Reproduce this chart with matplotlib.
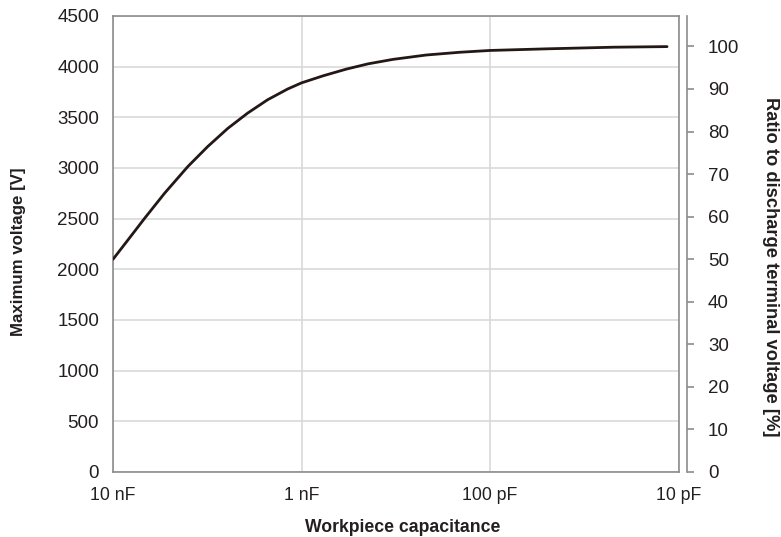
import matplotlib
matplotlib.use("Agg")
import matplotlib.pyplot as plt
import matplotlib.ticker as mticker

plt.rcParams['font.family'] = ['Liberation Sans', 'DejaVu Sans']

# capacitance in pF, maximum voltage in V
cap_pf = [10000, 8330, 6793, 5326, 4010, 3143, 2464, 1930, 1514, 1186, 1000,
          767, 578, 443, 327, 218, 145, 100, 50, 22.2, 11.5]
max_voltage = [2099, 2290, 2504, 2751, 3014, 3212, 3390, 3542, 3673, 3779, 3840,
               3910, 3976, 4028, 4072, 4115, 4142, 4160, 4176, 4192, 4198]

x_ticks = [10000, 1000, 100, 10]
x_labels = ['10 nF', '1 nF', '100 pF', '10 pF']
left_ticks = list(range(0, 4501, 500))
right_ticks = list(range(0, 101, 10))
full_voltage = 4200

text_col = '#231f20'
spine_col = '#8c8c8c'
grid_col = '#d9d9d9'

W, H = 781, 537
fig = plt.figure(figsize=(W / 100, H / 100), dpi=100)
ax = fig.add_axes([113 / W, 65 / H, 565.5 / W, 456 / H])

ax.plot(cap_pf, max_voltage, color='#231815', linewidth=2.0, solid_capstyle='round', zorder=3)

ax.set_xscale('log')
ax.set_xlim(10000, 10)
ax.set_ylim(0, 4500)
ax.xaxis.set_major_locator(mticker.FixedLocator(x_ticks))
ax.xaxis.set_minor_locator(mticker.NullLocator())
ax.set_xticks(x_ticks)
ax.set_xticklabels(x_labels)
ax.set_yticks(left_ticks)
ax.grid(True, color=grid_col, linewidth=1.2)
ax.set_axisbelow(True)
ax.tick_params(axis='x', length=0, labelsize=12.7, colors=text_col, pad=11)
ax.tick_params(axis='y', length=0, labelsize=13.5, colors=text_col, pad=10)
for s in ax.spines.values():
    s.set_color(spine_col)
    s.set_linewidth(1.2)

ax2 = ax.twinx()
ax2.set_ylim(0, 4500 / full_voltage * 100)
ax2.set_yticks(right_ticks)
ax2.spines['right'].set_position(('outward', 6.3))
ax2.spines['right'].set_color(spine_col)
ax2.spines['right'].set_linewidth(1.2)
for k in ['left', 'top', 'bottom']:
    ax2.spines[k].set_visible(False)
ax2.tick_params(axis='y', length=5, width=1.2, color=spine_col, labelsize=13.5,
                labelcolor=text_col, pad=10)

# axis titles placed where the reference has them
fig.text(19 / W, 1 - 252 / H, 'Maximum voltage [V]', rotation=90, ha='center', va='center',
         fontsize=12.2, fontweight='bold', color=text_col)
fig.text(771 / W, 1 - 266.5 / H, 'Ratio to discharge terminal voltage [%]', rotation=270,
         ha='center', va='center', fontsize=13.2, fontweight='bold', color=text_col)
fig.text(403 / W, 1 - 531.5 / H, 'Workpiece capacitance', ha='center', va='baseline',
         fontsize=12.7, fontweight='bold', color=text_col)

fig.savefig('out.png', dpi=100)
